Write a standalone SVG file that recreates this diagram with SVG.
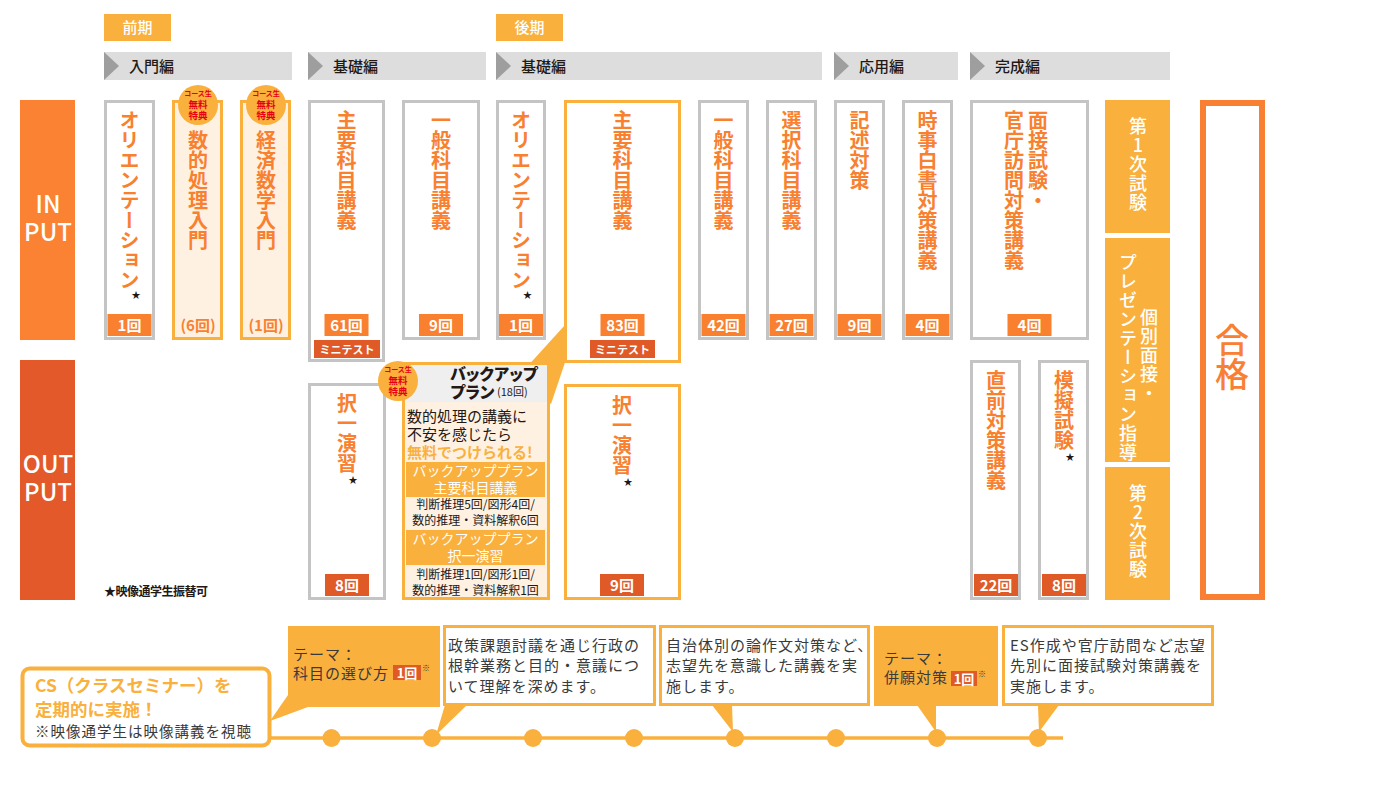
<svg xmlns="http://www.w3.org/2000/svg" width="1384" height="800" viewBox="0 0 1384 800">
<defs>
<style>
text{font-family:"Noto Sans CJK JP","Noto Sans",sans-serif}
.gb{fill:#fff;stroke:#C4C4C4;stroke-width:3}
.yb{fill:#FFF1E2;stroke:#FAB03C;stroke-width:3}
.yw{fill:#fff;stroke:#FAB03C;stroke-width:3}
.yf{fill:#FAB03C}
.v{writing-mode:vertical-rl;text-orientation:upright}
.vt{font-size:20px;font-weight:700;fill:#F8802F}
.vw{font-size:18px;font-weight:500;fill:#fff;letter-spacing:1px}
.c1{fill:#F8802F}
.c2{fill:#E05A27}
.ct{font-size:15px;font-weight:700;fill:#fff;text-anchor:middle}
.mt{font-size:11px;font-weight:700;fill:#fff;text-anchor:middle}
.star{font-size:9px;fill:#231815;text-anchor:middle}
.hb{fill:#DCDDDC}
.ht{fill:#9E9E9E}
.htx{font-size:15px;font-weight:500;fill:#231815}
.tag{font-size:15px;font-weight:500;fill:#fff;text-anchor:middle}
.bt{font-size:15px;fill:#3A3A3A;letter-spacing:1px}
.badge{fill:#FAB03C}
.bdt{font-weight:700;fill:#E60012;text-anchor:middle}
.bs{font-size:7px}
.bl{font-size:9.5px}
.io{font-size:24px;font-weight:500;fill:#fff;text-anchor:middle}
.bw{font-size:14px;fill:#fff;text-anchor:middle}
.bk{font-size:12px;fill:#231815;text-anchor:middle}
</style>
</defs>
<rect width="1384" height="800" fill="#fff"/>

<!-- period tags -->
<g id="tag-zenki"><rect x="104" y="14" width="67" height="27" class="yf"/><text x="137.5" y="33" class="tag">前期</text></g>
<g id="tag-kouki"><rect x="496" y="14" width="67" height="27" class="yf"/><text x="529.5" y="33" class="tag">後期</text></g>

<!-- header bars -->
<g id="bar-nyumon"><rect x="104" y="52" width="188" height="28" class="hb"/><polygon points="104,52 119,66 104,80" class="ht"/><text x="129" y="71.5" class="htx">入門編</text></g>
<g id="bar-kiso1"><rect x="308" y="52" width="178" height="28" class="hb"/><polygon points="308,52 323,66 308,80" class="ht"/><text x="333" y="71.5" class="htx">基礎編</text></g>
<g id="bar-kiso2"><rect x="496" y="52" width="326" height="28" class="hb"/><polygon points="496,52 511,66 496,80" class="ht"/><text x="521" y="71.5" class="htx">基礎編</text></g>
<g id="bar-ouyou"><rect x="834" y="52" width="124" height="28" class="hb"/><polygon points="834,52 849,66 834,80" class="ht"/><text x="859" y="71.5" class="htx">応用編</text></g>
<g id="bar-kansei"><rect x="970" y="52" width="200" height="28" class="hb"/><polygon points="970,52 985,66 970,80" class="ht"/><text x="995" y="71.5" class="htx">完成編</text></g>

<!-- row labels -->
<g id="label-input"><rect x="20" y="100" width="55" height="240" fill="#FA8232"/><text x="48" y="213" class="io">IN</text><text x="48" y="241" class="io">PUT</text></g>
<g id="label-output"><rect x="20" y="360" width="55" height="240" fill="#E4592A"/><text x="48" y="473" class="io">OUT</text><text x="48" y="501" class="io">PUT</text></g>

<!-- connectors -->
<g id="connectors">
<polygon points="585,303 515,380 551,404" class="yf"/>
<line x1="270" y1="738" x2="1063" y2="738" stroke="#FAB03C" stroke-width="3.5"/>
<g class="yf">
<circle cx="331.5" cy="738" r="9"/><circle cx="432" cy="738" r="9"/><circle cx="533" cy="738" r="9"/><circle cx="634" cy="738" r="9"/>
<circle cx="735" cy="738" r="9"/><circle cx="836" cy="738" r="9"/><circle cx="937" cy="738" r="9"/><circle cx="1038" cy="738" r="9"/>
</g>
</g>

<!-- INPUT nodes -->
<g id="n-orient1"><rect x="105.5" y="101.5" width="48" height="237" class="gb"/><text x="129.5" y="110" class="v vt">オリエンテーション</text><text x="136" y="298" class="star">★</text><rect x="107.5" y="314" width="44" height="22" class="c1"/><text x="129.5" y="330.5" class="ct">1回</text></g>

<g id="n-suteki"><rect x="173.5" y="101.5" width="48" height="237" class="yb"/><text x="198" y="130" class="v vt">数的処理入門</text><text x="198" y="331" class="ct" style="fill:#F8802F">(6回)</text>
<circle cx="198" cy="105" r="20" class="badge"/><text x="198" y="95.5" class="bdt bs">コース生</text><text x="198" y="107.5" class="bdt bl">無料</text><text x="198" y="118.5" class="bdt bl">特典</text></g>

<g id="n-keizai"><rect x="241.5" y="101.5" width="48" height="237" class="yb"/><text x="266" y="130" class="v vt">経済数学入門</text><text x="266" y="331" class="ct" style="fill:#F8802F">(1回)</text>
<circle cx="266" cy="105" r="20" class="badge"/><text x="266" y="95.5" class="bdt bs">コース生</text><text x="266" y="107.5" class="bdt bl">無料</text><text x="266" y="118.5" class="bdt bl">特典</text></g>

<g id="n-shuyo1"><rect x="309.5" y="101.5" width="74" height="259" class="gb"/><text x="346.5" y="110" class="v vt">主要科目講義</text><rect x="324.5" y="314" width="44" height="22" class="c1"/><text x="346.5" y="330.5" class="ct">61回</text><rect x="314" y="340" width="66" height="18" class="c2"/><text x="347" y="353.5" class="mt">ミニテスト</text></g>

<g id="n-ippan1"><rect x="403.5" y="101.5" width="75" height="237" class="gb"/><text x="441" y="110" class="v vt">一般科目講義</text><rect x="419" y="314" width="44" height="22" class="c1"/><text x="441" y="330.5" class="ct">9回</text></g>

<g id="n-orient2"><rect x="497.5" y="101.5" width="47" height="237" class="gb"/><text x="521" y="110" class="v vt">オリエンテーション</text><text x="527.5" y="298" class="star">★</text><rect x="499" y="314" width="44" height="22" class="c1"/><text x="521" y="330.5" class="ct">1回</text></g>

<g id="n-shuyo2"><rect x="565.5" y="101.5" width="114" height="260" class="yw"/><text x="622.5" y="110" class="v vt">主要科目講義</text><rect x="600.5" y="314" width="44" height="22" class="c1"/><text x="622.5" y="330.5" class="ct">83回</text><rect x="590" y="340" width="65" height="18" class="c2"/><text x="622.5" y="353.5" class="mt">ミニテスト</text></g>

<g id="n-ippan2"><rect x="699.5" y="101.5" width="48" height="237" class="gb"/><text x="723.5" y="110" class="v vt">一般科目講義</text><rect x="701.5" y="314" width="44" height="22" class="c1"/><text x="723.5" y="330.5" class="ct">42回</text></g>

<g id="n-sentaku"><rect x="767.5" y="101.5" width="48" height="237" class="gb"/><text x="791.5" y="110" class="v vt">選択科目講義</text><rect x="769.5" y="314" width="44" height="22" class="c1"/><text x="791.5" y="330.5" class="ct">27回</text></g>

<g id="n-kijutsu"><rect x="835.5" y="101.5" width="48" height="237" class="gb"/><text x="859.5" y="110" class="v vt">記述対策</text><rect x="837.5" y="314" width="44" height="22" class="c1"/><text x="859.5" y="330.5" class="ct">9回</text></g>

<g id="n-jiji"><rect x="903.5" y="101.5" width="48" height="237" class="gb"/><text x="927.5" y="110" class="v vt">時事白書対策講義</text><rect x="905.5" y="314" width="44" height="22" class="c1"/><text x="927.5" y="330.5" class="ct">4回</text></g>

<g id="n-mensetsu"><rect x="971.5" y="101.5" width="116" height="237" class="gb"/><text x="1038" y="110" class="v vt">面接試験・</text><text x="1014" y="110" class="v vt">官庁訪問対策講義</text><rect x="1007.5" y="314" width="44" height="22" class="c1"/><text x="1029.5" y="330.5" class="ct">4回</text></g>

<!-- OUTPUT nodes -->
<g id="n-takuitsu1"><rect x="309.5" y="384.5" width="75" height="214" class="gb"/><text x="347" y="393" class="v vt">択一演習</text><text x="353" y="483" class="star">★</text><rect x="325" y="574" width="44" height="22" class="c2"/><text x="347" y="590.5" class="ct">8回</text></g>

<g id="n-backup">
<rect x="403.5" y="363.5" width="145" height="235" class="yb"/>
<rect x="405" y="365" width="142" height="37" fill="#EFEFEF"/>
<text x="450" y="380" font-size="16" font-weight="900" fill="#231815" letter-spacing="-1.5">バックアップ</text>
<text x="450" y="397.5" font-size="16" font-weight="900" fill="#231815" letter-spacing="-1.5">プラン</text>
<text x="497" y="396" font-size="11" fill="#231815">(18回)</text>
<text x="407" y="422" font-size="15" fill="#231815">数的処理の講義に</text>
<text x="407" y="439.5" font-size="15" fill="#231815">不安を感じたら</text>
<text x="407" y="457.5" font-size="15" font-weight="700" fill="#FAB03C">無料でつけられる!</text>
<rect x="406" y="462" width="139" height="35" class="yf"/>
<text x="475.5" y="476" class="bw">バックアッププラン</text>
<text x="475.5" y="493" class="bw">主要科目講義</text>
<text x="475.5" y="509" class="bk">判断推理5回/図形4回/</text>
<text x="475.5" y="525" class="bk">数的推理・資料解釈6回</text>
<rect x="406" y="530" width="139" height="35" class="yf"/>
<text x="475.5" y="544" class="bw">バックアッププラン</text>
<text x="475.5" y="561" class="bw">択一演習</text>
<text x="475.5" y="579" class="bk">判断推理1回/図形1回/</text>
<text x="475.5" y="594.5" class="bk">数的推理・資料解釈1回</text>
<circle cx="398" cy="381" r="20" class="badge"/><text x="398" y="371.5" class="bdt bs">コース生</text><text x="398" y="383.5" class="bdt bl">無料</text><text x="398" y="394.5" class="bdt bl">特典</text>
</g>

<g id="n-takuitsu2"><rect x="565.5" y="385.5" width="114" height="213" class="yw"/><text x="622" y="395" class="v vt">択一演習</text><text x="628" y="485" class="star">★</text><rect x="600" y="574" width="44" height="22" class="c2"/><text x="622" y="590.5" class="ct">9回</text></g>

<g id="n-chokuzen"><rect x="971.5" y="361.5" width="48" height="237" class="gb"/><text x="996" y="370" class="v vt">直前対策講義</text><rect x="974" y="574" width="44" height="22" class="c2"/><text x="996" y="590.5" class="ct">22回</text></g>

<g id="n-mogi"><rect x="1039.5" y="361.5" width="48" height="237" class="gb"/><text x="1064" y="370" class="v vt">模擬試験</text><text x="1070" y="460" class="star">★</text><rect x="1042" y="574" width="44" height="22" class="c2"/><text x="1064" y="590.5" class="ct">8回</text></g>

<text x="104" y="596" font-size="12" font-weight="700" fill="#231815" letter-spacing="-0.5">★映像通学生振替可</text>

<!-- exam column -->
<g id="n-exam1"><rect x="1105" y="100" width="65" height="133" class="yf"/><text x="1138" y="117" class="v vw">第1次試験</text></g>
<g id="n-interview"><rect x="1105" y="238" width="65" height="224" class="yf"/><text x="1149" y="308" class="v vw">個別面接・</text><text x="1128" y="253" class="v vw">プレゼンテーション指導</text></g>
<g id="n-exam2"><rect x="1105" y="467" width="65" height="133" class="yf"/><text x="1138" y="484" class="v vw">第2次試験</text></g>

<g id="n-goukaku"><rect x="1203" y="103" width="59" height="494" fill="#fff" stroke="#F98033" stroke-width="6"/><text x="1232" y="323" class="v" font-size="34" font-weight="500" fill="#F98033">合格</text></g>

<!-- CS section -->
<g id="n-cs"><rect x="22.5" y="668.5" width="247" height="77" rx="7" fill="#fff" stroke="#FAB03C" stroke-width="4"/>
<text x="35" y="692" font-size="17.5" font-weight="700" fill="#FAB03C">CS（クラスセミナー）を</text>
<text x="35" y="716" font-size="17.5" font-weight="700" fill="#FAB03C">定期的に実施！</text>
<text x="35" y="737" font-size="14.5" fill="#3A3A3A" letter-spacing="1">※映像通学生は映像講義を視聴</text></g>

<g id="n-theme1"><polygon points="288,695 308,707 270,721" class="yf"/><rect x="288" y="626" width="152" height="81" class="yf"/>
<text x="293" y="660" class="bt">テーマ：</text><text x="293" y="678.5" class="bt">科目の選び方</text>
<rect x="393" y="665" width="28" height="15" class="c2"/><text x="407" y="677.5" font-size="13" font-weight="700" fill="#fff" text-anchor="middle">1回</text><text x="422" y="671" font-size="8" fill="#3A3A3A">※</text></g>

<g id="n-note1"><polygon points="445,705 467,705 436,735" class="yf"/><rect x="444.5" y="626.5" width="210" height="78" class="yw" stroke-width="2.5"/>
<text x="448" y="650.5" class="bt">政策課題討議を通じ行政の</text><text x="448" y="671" class="bt">根幹業務と目的・意議につ</text><text x="448" y="691.5" class="bt">いて理解を深めます。</text></g>

<g id="n-note2"><polygon points="712,705 732,705 733,732" class="yf"/><rect x="660.5" y="626.5" width="208" height="78" class="yw" stroke-width="2.5"/>
<text x="666" y="650.5" class="bt">自治体別の論作文対策など、</text><text x="666" y="671" class="bt">志望先を意識した講義を実</text><text x="666" y="691.5" class="bt">施します。</text></g>

<g id="n-theme2"><polygon points="917,705 936,705 936,732" class="yf"/><rect x="874" y="626" width="124" height="80" class="yf"/>
<text x="884" y="663.5" class="bt">テーマ：</text><text x="884" y="683" class="bt">併願対策</text>
<rect x="951" y="671" width="26" height="15" class="c2"/><text x="964" y="683.5" font-size="13" font-weight="700" fill="#fff" text-anchor="middle">1回</text><text x="978" y="677" font-size="8" fill="#3A3A3A">※</text></g>

<g id="n-note3"><polygon points="1038,705 1059,705 1039,732" class="yf"/><rect x="1003.5" y="626.5" width="209" height="78" class="yw" stroke-width="2.5"/>
<text x="1010" y="650.5" class="bt">ES作成や官庁訪問など志望</text><text x="1010" y="671" class="bt">先別に面接試験対策講義を</text><text x="1010" y="691.5" class="bt">実施します。</text></g>
</svg>
